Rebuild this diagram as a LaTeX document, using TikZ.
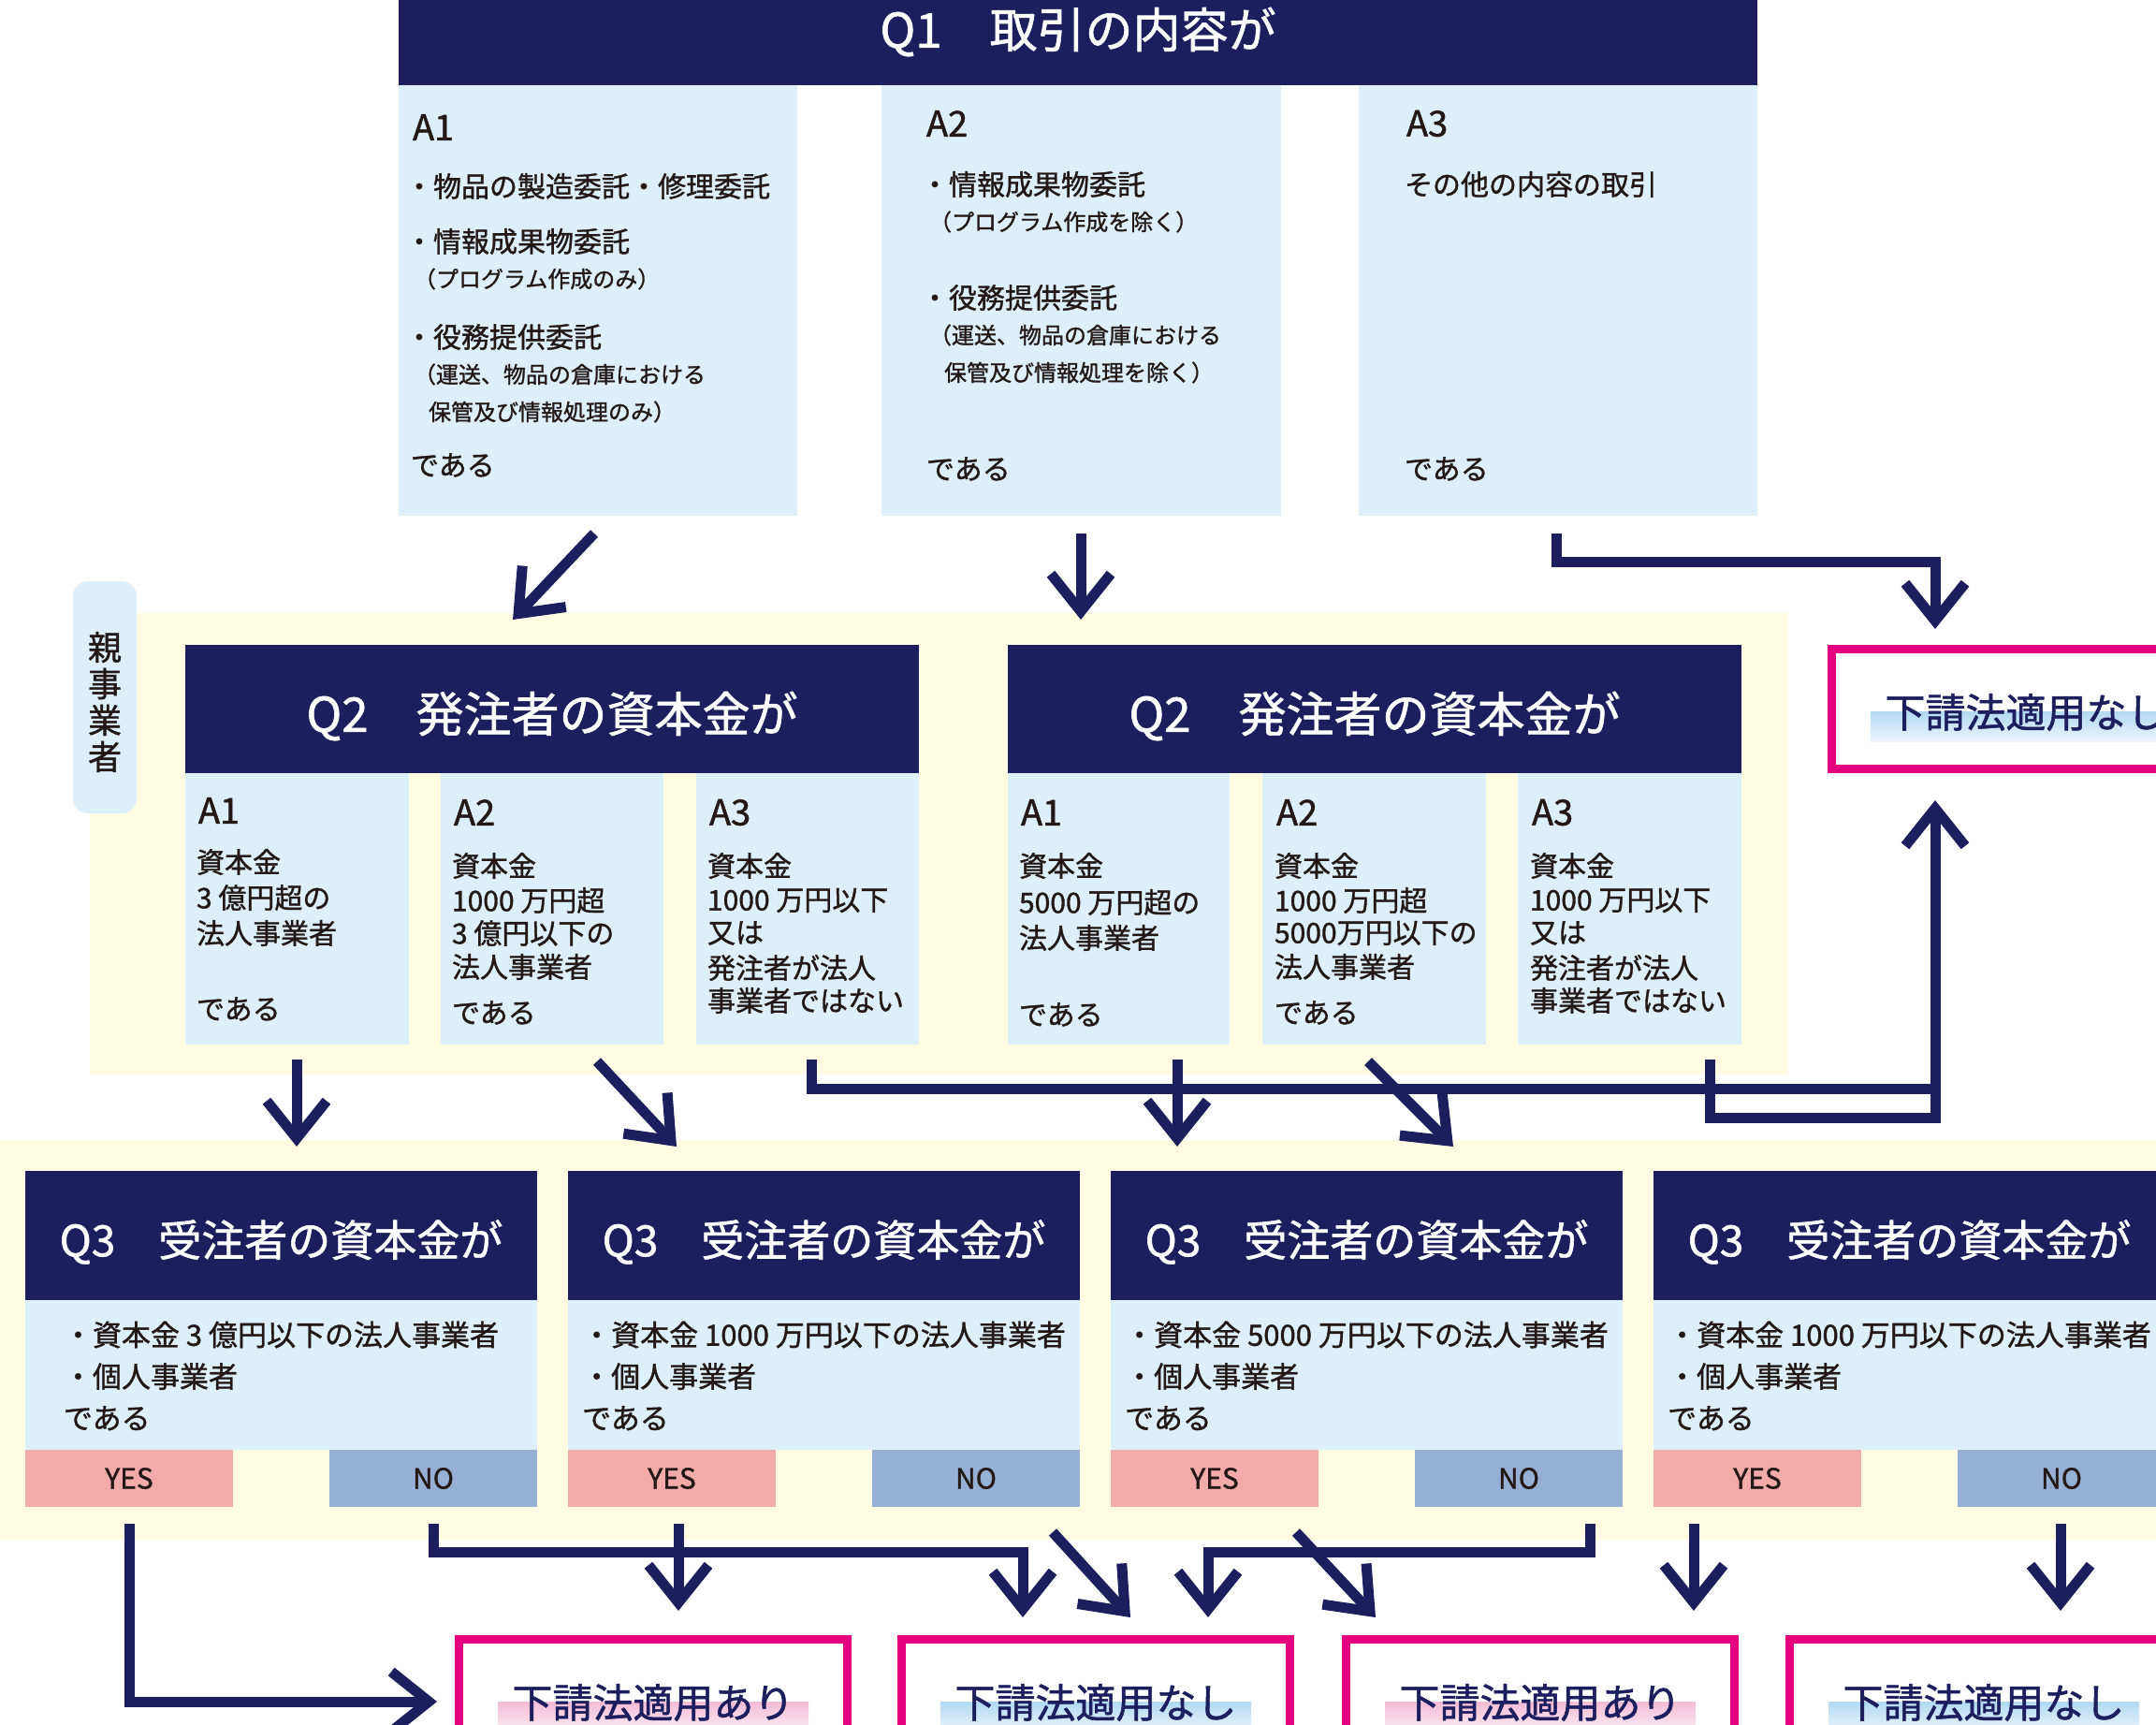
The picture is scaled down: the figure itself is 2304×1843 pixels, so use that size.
\documentclass[tikz,border=0pt]{standalone}
\usepackage{fontspec}
\setmainfont{Noto Sans CJK JP}[FakeBold=1.2]
\usetikzlibrary{arrows.meta,calc}
\definecolor{navy}{HTML}{1C1E5E}
\definecolor{lblue}{HTML}{DCEFFA}
\definecolor{ylw}{HTML}{FFFCE1}
\definecolor{yespink}{HTML}{F2ABA9}
\definecolor{noblue}{HTML}{96AFD5}
\definecolor{mag}{HTML}{E4007F}
\definecolor{txt}{HTML}{231815}
\definecolor{hlblue}{HTML}{B3D9F2}
\definecolor{hlpink}{HTML}{F4BCD6}
\begin{document}
\begin{tikzpicture}[x=1pt,y=-1pt,
  blk/.style={inner sep=0pt,outer sep=0pt,anchor=north west,draw=none},
  hdr/.style={blk,fill=navy},
  ans/.style={blk,fill=lblue},
  bgy/.style={blk,fill=ylw},
  yesbox/.style={blk,fill=yespink,text=txt,font=\fontsize{30}{30}\selectfont},
  nobox/.style={blk,fill=noblue,text=txt,font=\fontsize{30}{30}\selectfont},
  res/.style={blk,draw=mag,line width=8.5pt},
  tx/.style={inner sep=0pt,outer sep=0pt,anchor=west,text=txt,font=\fontsize{30}{36}\selectfont},
  txs/.style={tx,font=\fontsize{24}{28}\selectfont},
  txa/.style={tx,font=\fontsize{38}{40}\selectfont},
  tqa/.style={inner sep=0pt,text=white,font=\fontsize{51}{56}\selectfont},
  tqb/.style={inner sep=0pt,text=white,font=\fontsize{46}{50}\selectfont},
  tres/.style={inner sep=0pt,text=navy,font=\fontsize{43}{48}\selectfont},
  conn/.style={draw=navy,line width=11pt,line join=miter},
  arr/.style={conn,-{Straight Barb[length=40pt,width=64pt]}},
]
\useasboundingbox (0,0) rectangle (2304,1843);
\begin{scope}
\clip (0,0) rectangle (2304,1843);

% ---------- backgrounds ----------
\node[bgy,minimum width=1815,minimum height=493] (bgq2) at (96,655) {};
\node[bgy,minimum width=2304,minimum height=427] (bgq3) at (0,1218) {};

% ---------- Q1 ----------
\node[hdr,minimum width=1452,minimum height=91] (q1) at (426,0) {};
\node[tqa] (q1t) at (1152,34) {Q1　取引の内容が};
\node[ans,minimum width=426,minimum height=460] (q1a1) at (426,91) {};
\node[ans,minimum width=427,minimum height=460] (q1a2) at (942,91) {};
\node[ans,minimum width=426,minimum height=460] (q1a3) at (1452,91) {};

\node[txa] (q1a1l) at (441,136) {A1};
\node[tx] (q1a1a) at (433,199) {・物品の製造委託・修理委託};
\node[tx] (q1a1b) at (433,258) {・情報成果物委託};
\node[txs] (q1a1c) at (442,298) {（プログラム作成のみ）};
\node[tx] (q1a1d) at (433,360) {・役務提供委託};
\node[txs] (q1a1e) at (442,400) {（運送、物品の倉庫における};
\node[txs] (q1a1f) at (458,440) {保管及び情報処理のみ）};
\node[tx] (q1a1g) at (439,497) {である};

\node[txa] (q1a2l) at (990,132) {A2};
\node[tx] (q1a2a) at (984,197) {・情報成果物委託};
\node[txs] (q1a2b) at (993,237) {（プログラム作成を除く）};
\node[tx] (q1a2c) at (984,318) {・役務提供委託};
\node[txs] (q1a2d) at (993,358) {（運送、物品の倉庫における};
\node[txs] (q1a2e) at (1009,398) {保管及び情報処理を除く）};
\node[tx] (q1a2f) at (990,501) {である};

\node[txa] (q1a3l) at (1503,132) {A3};
\node[tx] (q1a3a) at (1501,197) {その他の内容の取引};
\node[tx] (q1a3b) at (1501,501) {である};

% ---------- Q2 ----------
\node[blk,fill=lblue,rounded corners=16pt,minimum width=68,minimum height=248] (oya) at (78,621) {};
\node[inner sep=0pt,text=txt,align=center,font=\fontsize{36}{39}\selectfont] (oyat) at (112,750) {親\\事\\業\\者};

\node[hdr,minimum width=784,minimum height=137] (q2l) at (198,689) {};
\node[tqa] (q2lt) at (590,765) {Q2　発注者の資本金が};
\node[ans,minimum width=239,minimum height=290] (q2la1) at (198,826) {};
\node[ans,minimum width=238,minimum height=290] (q2la2) at (471,826) {};
\node[ans,minimum width=238,minimum height=290] (q2la3) at (744,826) {};

\node[hdr,minimum width=784,minimum height=137] (q2r) at (1077,689) {};
\node[tqa] (q2rt) at (1469,765) {Q2　発注者の資本金が};
\node[ans,minimum width=237,minimum height=290] (q2ra1) at (1077,826) {};
\node[ans,minimum width=239,minimum height=290] (q2ra2) at (1349,826) {};
\node[ans,minimum width=239,minimum height=290] (q2ra3) at (1622,826) {};

% left block texts
\node[txa] (la1l) at (212,866) {A1};
\node[tx] (la1a) at (210,921) {資本金};
\node[tx] (la1b) at (210,959) {3 億円超の};
\node[tx] (la1c) at (210,997) {法人事業者};
\node[tx] (la1d) at (210,1078) {である};

\node[txa] (la2l) at (485,868) {A2};
\node[tx] (la2a) at (483,925) {資本金};
\node[tx] (la2b) at (483,962) {1000 万円超};
\node[tx] (la2c) at (483,997) {3 億円以下の};
\node[tx] (la2d) at (483,1033) {法人事業者};
\node[tx] (la2e) at (483,1082) {である};

\node[txa] (la3l) at (758,868) {A3};
\node[tx] (la3a) at (756,925) {資本金};
\node[tx] (la3b) at (756,962) {1000 万円以下};
\node[tx] (la3c) at (756,997) {又は};
\node[tx] (la3d) at (756,1034) {発注者が法人};
\node[tx] (la3e) at (756,1069) {事業者ではない};

% right block texts
\node[txa] (ra1l) at (1091,868) {A1};
\node[tx] (ra1a) at (1089,925) {資本金};
\node[tx] (ra1b) at (1089,964) {5000 万円超の};
\node[tx] (ra1c) at (1089,1002) {法人事業者};
\node[tx] (ra1d) at (1089,1084) {である};

\node[txa] (ra2l) at (1364,868) {A2};
\node[tx] (ra2a) at (1362,925) {資本金};
\node[tx] (ra2b) at (1362,962) {1000 万円超};
\node[tx] (ra2c) at (1362,997) {5000万円以下の};
\node[tx] (ra2d) at (1362,1033) {法人事業者};
\node[tx] (ra2e) at (1362,1082) {である};

\node[txa] (ra3l) at (1637,868) {A3};
\node[tx] (ra3a) at (1635,925) {資本金};
\node[tx] (ra3b) at (1635,962) {1000 万円以下};
\node[tx] (ra3c) at (1635,997) {又は};
\node[tx] (ra3d) at (1635,1034) {発注者が法人};
\node[tx] (ra3e) at (1635,1069) {事業者ではない};

% ---------- Q3 ----------
\foreach \i/\x/\amt in {1/27/{3 億},2/607/{1000 万},3/1187/{5000 万},4/1767/{1000 万}}{
  \node[hdr,minimum width=547,minimum height=138] (q3h\i) at (\x,1251) {};
  \node[tqb] (q3t\i) at (\x+273.5,1327) {Q3　受注者の資本金が};
  \node[ans,minimum width=547,minimum height=160] (q3b\i) at (\x,1389) {};
  \node[inner sep=0pt,text=txt,align=left,font=\fontsize{31}{44.5}\selectfont] (q3bt\i) at (\x+273.5,1470)
     {・資本金 \amt 円以下の法人事業者\\・個人事業者\\である};
  \node[yesbox,minimum width=222,minimum height=61] (yes\i) at (\x,1549) {YES};
  \node[nobox,minimum width=222,minimum height=61] (no\i) at (\x+325,1549) {NO};
}

% ---------- results ----------
\node[res,minimum width=415,minimum height=128] (r0) at (1957.5,693.5) {};
\node[res,minimum width=415,minimum height=128] (r1) at (490.5,1751.5) {};
\node[res,minimum width=415,minimum height=128] (r2) at (963.5,1751.5) {};
\node[res,minimum width=415,minimum height=128] (r3) at (1438.5,1751.5) {};
\node[res,minimum width=415,minimum height=128] (r4) at (1912.5,1751.5) {};

\shade[top color=hlblue,bottom color=hlblue!25] ($(r0.north)+(-166,67)$) rectangle ($(r0.north)+(166,99)$);
\shade[top color=hlpink,bottom color=hlpink!25] ($(r1.north)+(-166,67)$) rectangle ($(r1.north)+(166,99)$);
\shade[top color=hlblue,bottom color=hlblue!25] ($(r2.north)+(-166,67)$) rectangle ($(r2.north)+(166,99)$);
\shade[top color=hlpink,bottom color=hlpink!25] ($(r3.north)+(-166,67)$) rectangle ($(r3.north)+(166,99)$);
\shade[top color=hlblue,bottom color=hlblue!25] ($(r4.north)+(-166,67)$) rectangle ($(r4.north)+(166,99)$);

\node[tres] (r0t) at ($(r0.north)+(0,67.5)$) {下請法適用なし};
\node[tres] (r1t) at ($(r1.north)+(0,67.5)$) {下請法適用あり};
\node[tres] (r2t) at ($(r2.north)+(0,67.5)$) {下請法適用なし};
\node[tres] (r3t) at ($(r3.north)+(0,67.5)$) {下請法適用あり};
\node[tres] (r4t) at ($(r4.north)+(0,67.5)$) {下請法適用なし};

% ---------- connector end points ----------
\coordinate (c1s) at (635,570);   \coordinate (c1e) at (548,662);
\coordinate (c2s) at (1155,570);  \coordinate (c2e) at (1155,662);
\coordinate (c3s) at (1663,570);  \coordinate (c3e) at (2068,672);
\coordinate (c4s) at (317,1132);  \coordinate (c4e) at (317,1225);
\coordinate (c5s) at (638,1134);  \coordinate (c5e) at (723,1225);
\coordinate (c6s) at (867,1132);  \coordinate (c6e) at (2068,855);
\coordinate (c7s) at (1827,1132); \coordinate (c7m) at (2068,1194);
\coordinate (c8s) at (1258,1132); \coordinate (c8e) at (1258,1225);
\coordinate (c9s) at (1462,1134); \coordinate (c9e) at (1553,1225);
\coordinate (d1s) at (138,1628);  \coordinate (d1e) at (467,1818);
\coordinate (d2s) at (463,1628);  \coordinate (d2e) at (1093,1728);
\coordinate (d3s) at (725,1628);  \coordinate (d3e) at (725,1721);
\coordinate (d4s) at (1125,1637); \coordinate (d4e) at (1208,1728);
\coordinate (d5s) at (1385,1637); \coordinate (d5e) at (1470,1728);
\coordinate (d6s) at (1699,1628); \coordinate (d6e) at (1291,1728);
\coordinate (d7s) at (1810,1628); \coordinate (d7e) at (1810,1721);
\coordinate (d8s) at (2202,1628); \coordinate (d8e) at (2202,1721);

% ---------- connectors ----------
\draw[arr] (c1s) -- (c1e);
\draw[arr] (c2s) -- (c2e);
\draw[arr] (c3s) -- (1663,600) -| (c3e);
\draw[arr] (c4s) -- (c4e);
\draw[arr] (c5s) -- (c5e);
\draw[conn] (c7s) |- (c7m) -- (2068,1160);
\draw[arr] (c6s) |- (2068,1163) -- (c6e);
\draw[arr] (c8s) -- (c8e);
\draw[arr] (c9s) -- (c9e);

\draw[arr] (d1s) |- (d1e);
\draw[arr] (d2s) -- (463,1658) -| (d2e);
\draw[arr] (d3s) -- (d3e);
\draw[arr] (d4s) -- (d4e);
\draw[arr] (d5s) -- (d5e);
\draw[arr] (d6s) -- (1699,1658) -| (d6e);
\draw[arr] (d7s) -- (d7e);
\draw[arr] (d8s) -- (d8e);
\end{scope}
\end{tikzpicture}
\end{document}
